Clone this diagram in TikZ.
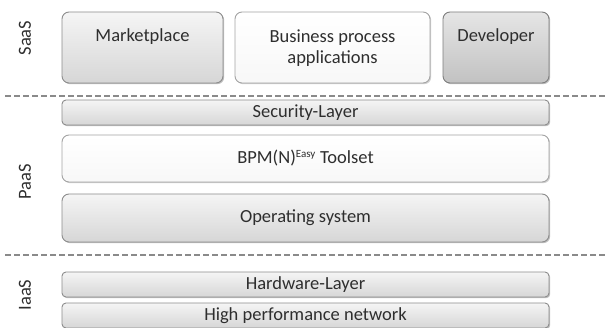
\documentclass[tikz,border=0pt]{standalone}
\usepackage{fontspec}
\setmainfont{Carlito}
\usetikzlibrary{shadows}
\definecolor{edge}{HTML}{8C8C8C}
\definecolor{dashc}{HTML}{8A8A8A}
\begin{document}
\begin{tikzpicture}[x=1pt,y=-1pt,
  graybox/.style={draw=edge, line width=0.9pt, rounded corners=7pt, top color=gray!8, bottom color=gray!32,
     drop shadow={shadow xshift=1.2pt, shadow yshift=-1.2pt, fill=black, opacity=0.25}, inner sep=0pt},
  lightbox/.style={draw=edge!80, line width=0.9pt, rounded corners=7pt, top color=white, bottom color=gray!6,
     drop shadow={shadow xshift=1.2pt, shadow yshift=-1.2pt, fill=black, opacity=0.18}, inner sep=0pt},
  darkbox/.style={draw=edge!90!black, line width=0.9pt, rounded corners=7pt, top color=gray!20, bottom color=gray!48,
     drop shadow={shadow xshift=1.2pt, shadow yshift=-1.2pt, fill=black, opacity=0.25}, inner sep=0pt},
  barbox/.style={graybox, rounded corners=4pt},
  txt/.style={font=\fontsize{18.5}{21}\selectfont, text=black!82, inner sep=0pt, align=center},
  side/.style={font=\fontsize{18.5}{21}\selectfont, text=black!82, rotate=90, inner sep=0pt},
  sep/.style={draw=dashc, line width=1.8pt, dash pattern=on 6pt off 3pt}
]
\useasboundingbox (0,0) rectangle (605,328);

% SaaS
\node[graybox, minimum width=161pt, minimum height=71pt] (mkt) at (142.5,47.5) {};
\node[txt] (mktt) at (142.5,37) {Marketplace};
\node[lightbox, minimum width=195pt, minimum height=71pt] (bpa) at (332.5,47.5) {};
\node[txt] (bpat) at (332.5,48) {Business process\\applications};
\node[darkbox, minimum width=106pt, minimum height=71pt] (dev) at (496,47.5) {};
\node[txt] (devt) at (496,37) {Developer};

% separators
\coordinate (s1a) at (5,96);
\coordinate (s1b) at (605,96);
\coordinate (s2a) at (5,255);
\coordinate (s2b) at (605,255);
\draw[sep] (s1a) -- (s1b);
\draw[sep] (s2a) -- (s2b);

% PaaS
\node[barbox, minimum width=487pt, minimum height=25pt] (sec) at (305.5,112.5) {};
\node[txt] (sect) at (305.5,112.5) {Security-Layer};
\node[lightbox, minimum width=487pt, minimum height=47pt] (bpm) at (305.5,158.5) {};
\node[txt] (bpmt) at (305.5,158.5) {BPM(N)\textsuperscript{\fontsize{11}{12}\selectfont Easy} Toolset};
\node[graybox, minimum width=487pt, minimum height=48pt] (os) at (305.5,218) {};
\node[txt] (ost) at (305.5,218) {Operating system};

% IaaS
\node[barbox, minimum width=487pt, minimum height=25pt] (hw) at (305.5,284.5) {};
\node[txt] (hwt) at (305.5,284.5) {Hardware-Layer};
\node[barbox, minimum width=487pt, minimum height=25pt] (hpn) at (305.5,315.5) {};
\node[txt] (hpnt) at (305.5,315.5) {High performance network};

% side labels
\node[side] (saas) at (25,38) {SaaS};
\node[side] (paas) at (25,182) {PaaS};
\node[side] (iaas) at (25,295) {IaaS};
\end{tikzpicture}
\end{document}
